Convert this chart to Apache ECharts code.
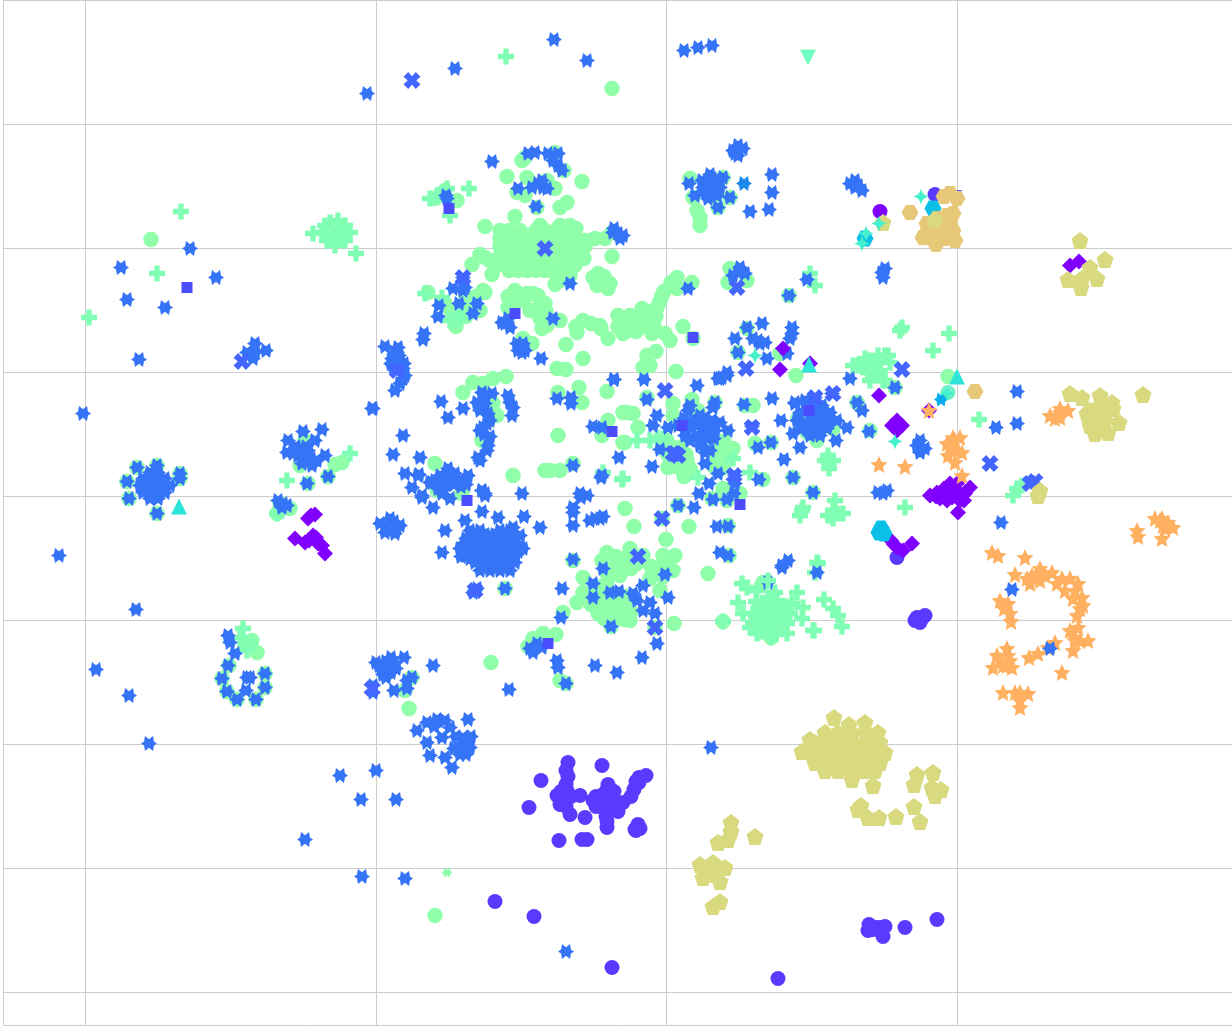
<!DOCTYPE html>
<html><head><meta charset="utf-8">
<style>html,body{margin:0;padding:0;background:#fff}#c{width:1232px;height:1028px}</style>
<script src="https://cdn.jsdelivr.net/npm/echarts@6/dist/echarts.min.js"></script>
</head><body><div id="c"></div>
<script>
// Values. The chart has no labelled units, so the unit is one plot pixel with origin at a grid crossing.
const xTicks=[-662.5,-581,-289.5,0.5,291,566];
const yTicks=[-529,-496,-372,-248,-124,0,124,248,372,496];
const indigoCircle=[[269,302],[-171,-405],[-132,-420],[-54,-471],[112,-482],[239,-431],[271,-423],[207,-433],[214,-431],[219,-430],[217,-440],[202,-434],[231,-61],[256,-122],[249,-124],[254,-126],[259,-119],[251,-121],
[-98,-266],[-100,-274],[-64,-269],[-125,-284],[-137,-311],[-100,-288],[-109,-299],[-99,-294],[-106,-308],[-96,-318],[-81,-321],[-86,-299],[-63,-304],[-63,-298],[-58,-288],[-68,-308],[-53,-308],[-43,-306],[-58,-315],[-59,-331],[-48,-315],[-107,-344],[-84,-343],[-79,-343],[-31,-333],[-26,-332],[-27,-281],[-20,-279],[-32,-293],[-27,-286],[-73,-304],
[-70,-300],[-65,-310],[-55,-300],[-60,-295],[-52,-295],[-60,-320],[-70,-310],[-105,-305],[-100,-310],[-105,-295],[-95,-300],[-98,-280],[-30,-285],[-35,-300],[-60,-305],[210,-431],[203,-428],[-59,-325],[-30,-334],[-28,-328]];
const greenCircle=[[-54,408],[-515,257],[-141,339],[-144,336],[-111,344],[-102,326],[-159,320],[-84,315],[-139,319],[-119,316],[-149,304],[-141,301],[-111,308],[-129,289],[-99,294],[-106,289],[-181,270],[-151,280],
[-156,261],[-146,266],[-136,261],[-126,271],[-161,251],[-151,246],[-141,251],[-131,246],[-121,256],[-116,261],[-106,271],[-96,271],[-91,261],[-81,256],[-71,258],[-61,258],[-54,264],[-101,256],[-96,246],[-106,241],[-156,234],[-146,231],[-136,228],[-126,231],[-166,241],[-176,236],[-91,231],[-96,221],[-106,216],[-111,212],[-68,223],[-58,208],[-69,211],[-56,213],[-73,219],[-54,240],[-174,222],[-186,242],[-194,232],[-181,239],[-181,204],[-238,204],
[-151,206],[-133,203],[-121,193],[-128,188],[-158,189],[-139,203],[-119,171],[-143,158],[-134,153],[-100,152],[-83,176],[-89,164],[-66,171],[-58,158],[-43,163],[-48,181],[-36,181],[-24,188],[-26,169],[-14,163],[-1,163],[4,156],[-9,189],[-4,201],[11,219],[11,208],[26,214],[17,170],[27,158],[-10,145],[-19,141],[-16,131],[-23,129],[10,125],[130,121],[-83,138],[-109,128],[-100,127],
[-183,206],[-221,193],[-196,193],[-186,186],[-211,179],[-128,201],
[-203,104],[-193,114],[-173,118],[-160,120],[-183,113],[-173,93],[-169,81],[-184,56],[-231,33],[-204,3],[-229,6],[-153,21],[-108,61],[-87,109],[-108,104],[-84,94],[-59,105],[-121,26],[-116,26],[-106,26],[-93,33],[-43,84],[-43,54],[-58,76],[-64,61],
[-161,-92],[-93,-64],[-41,-12],[-32,-30],[23,-30],[0,-43],[42,-77],[8,-127],[-175,-166],
[-59,-56],[-64,-64],[-36,-52],[-23,-59],[-43,-67],[-29,-67],[-46,-79],[-83,-81],[-59,-86],[-83,-96],[-89,-106],[-103,-116],[-3,-59],[9,-59],[7,-74],[-6,-94],[-16,-82],[-68,-117],[-56,-107],[-49,-114],[-39,-107],[-36,-124],[-56,-117],[-43,-117],[63,-59],[97,-86],
[-123,-137],[-133,-142],[-138,-150],[-110,-138],[-106,-184],[-100,-187],
[-18,131],[-19,99],[7,93],[26,97],[7,81],[32,86],[49,94],[79,91],[87,91],[-39,84],[-33,83],[-28,69],[-41,54],[1,56],[1,43],[14,49],[21,36],[17,29],[51,56],[54,46],[67,48],[52,33],[61,36],[89,53],[105,54],[97,17],[191,94],[204,66],[229,109],[127,19],[147,4],[132,78],[141,64],[167,68],[151,56],[57,8],[46,-2],[61,-4],[74,3],[12,-9],[-4,-22],[62,-29],[282,120],
[-529,29],[-509,31],[-486,23],[-486,18],[-539,15],[-537,-2],[-509,-17],
[-331,32],[-338,20],[-358,13],[-366,31],[-361,56],[-386,-7],[-389,-17],[-376,-12],[-324,34],
[-437,-169],[-444,-182],[-439,-195],[-429,-203],[-410,-203],[-401,-191],[-401,-177],[-414,-144],[-409,-156],[-421,-149],
[-231,-419],[-257,-212],[-254,-181],[-261,-194],
[24,318],[57,319],[27,299],[31,286],[34,279],[34,271],[52,289],[64,299],[64,228],[62,214],[81,216],[81,168],[72,144],[114,143],[-221,306],[-209,296],[-231,298],[-106,176],[57,-125],[105,-141],[-55,-130],[-11,-131],[123,201],[2,29],
[-166,266],[-157,266],[-148,258],[-139,258],[-130,266],[-121,266],[-166,258],[-157,258],[-130,258],[-121,248],[-166,250],[-157,250],[-148,242],[-139,242],[-130,238],[-121,238],[-157,242],[-148,234],[-139,234],[-130,226],[-121,226],[-166,232],[-157,226],[-148,226],[-139,226],
[-108,268],[-99,268],[-90,268],[-81,250],[-108,258],[-99,258],[-90,250],[-108,248],[-99,238],[-90,238],[-108,232],[-99,228],[-82,238],[-110,222],[-65,215],[-62,220],
[-146,196],[-136,186],[-126,178],[-140,200],[-150,196],[-120,185],[-158,200],[-124,168],[-75,173],[-90,170],[-65,168],[-42,175],[-30,175],[-18,175],[-48,170],[-36,170],[-24,178],[-12,170],[-10,180],[-18,185],[-6,195],[-2,205],[5,214],[-30,165],[-40,165],
[48,48],[55,38],[60,42],[50,40],[58,55],[64,42],[48,30],[56,28],[5,50],[10,40],[10,30],[20,42],[5,36],[24,28],[14,38],[18,20],
[-70,-100],[-60,-100],[-50,-100],[-40,-100],[-65,-110],[-55,-112],[-45,-108],[-35,-115],[-62,-122],[-50,-122],[-42,-123],[-75,-108],[-50,-70],[-38,-60],[-55,-75],[-50,-60],[-15,-70],[-5,-70],[0,-65],[-3,-80],[-35,-72],[-60,-75],[-70,-90],
[-205,190],[-215,185],[-195,185],[-190,200],[-200,200],[-210,170],[-200,180]];
const greenPlus=[[-160,440],[-485,285],[-509,223],[-577,179],[-197,308],[-236,298],[-229,301],[-219,308],[-216,281],
[-353,263],[-310,243],[-341,271],[-336,274],[-328,276],[-321,271],[-316,264],[-321,256],[-331,251],[-339,256],[-344,264],[-331,263],[-326,266],[-336,258],
[-209,177],[-216,176],[-206,179],[-224,199],[-241,203],[236,169],[234,166],[283,163],[267,146],[149,211],[144,223],
[204,136],[209,131],[214,126],[202,124],[196,131],[207,121],[192,131],[219,141],[224,134],[212,141],[199,138],[204,116],[219,116],[187,131],[222,141],[217,116],[205,125],[210,135],[200,132],[213,122],
[313,77],[-316,43],[-379,16],[-389,-17],[-384,-14],[-423,-132],[-426,-141],[-416,-149],[-419,-154],
[351,8],[347,1],[356,11],[239,-11],[163,34],[159,36],[167,36],[162,41],[163,28],
[136,-14],[134,-19],[137,-11],[169,-4],[167,-14],[171,-17],[177,-17],[162,-19],[167,-22],[-44,17],[-63,24],[84,24],
[-29,56],[-16,56],[-9,59],[-3,58],[67,38],[32,19],[-43,18],
[76,-87],[81,-91],[72,-106],[77,-117],[91,-94],[109,-96],[131,-96],[136,-122],[147,-134],[126,-107],[137,-111],[121,-137],[84,-131],[91,-137],
[94,-111],[104,-107],[114,-111],[97,-121],[107,-117],[117,-121],[94,-131],[104,-131],[114,-131],[87,-117],[124,-117],[102,-101],[111,-104],[87,-126],[121,-127],[100,-110],[110,-115],[90,-120],[100,-125],[110,-125],[90,-105],[120,-110],[95,-135],[110,-138],
[158,-103],[167,-112],[172,-119],[176,-130],[148,-134],[151,-66],[149,-76],[152,-67]];
const blueStar=[[-299,403],[-211,428],[-112,457],[-79,436],[18,446],[32,449],[46,451],
[-545,229],[-539,197],[-501,189],[-476,248],[-450,219],[-527,137],[-583,83],[-607,-59],[-530,-113],[-570,-173],[-537,-199],[-517,-247],[-326,-279],[-290,-274],[-305,-303],[-270,-303],[-361,-343],[-304,-380],[-261,-382],[-100,-455],[45,-251],[351,105],[330,69],[351,73],[335,-26],[-294,88],
[-411,153],[-419,144],[-400,146],[-411,144],[-413,138],
[-174,335],[-138,343],[-131,344],[-118,343],[-108,343],[-113,336],[-108,331],[-104,326],[-148,308],[-134,309],[-128,313],[-123,309],[-119,308],[-124,316],[-130,290],[-220,301],[-219,298],
[-52,268],[-48,263],[-43,261],[-46,258],[-53,264],[-96,213],[-113,178],[-125,138],[-22,117],[22,208],
[-146,149],[-148,146],[-143,153],[-144,144],[-149,153],[-141,146],[-161,173],[-156,169],[-164,174],[-158,178],
[-203,219],[-213,208],[-203,206],[-207,193],[-227,191],[-228,180],[-189,193],[-193,183],[-201,209],[-242,163],[-243,157],[-281,150],
[-269,144],[-274,138],[-266,136],[-273,131],[-263,128],[-263,118],[-271,106],[-266,113],[-268,149],[-261,121],[-272,142],[-267,141],[-275,133],[-262,133],[-270,126],
[-52,117],[-225,95],[-203,88],[-218,79],[-263,61],[-273,42],[-293,88],[-246,39],[-261,23],[-247,22],[-254,9],[-244,1],[-234,14],[-226,21],[-218,28],[-216,16],[-206,16],[-198,21],[-224,6],[-211,23],[-184,6],[-181,3],[-144,3],[-226,16],[-220,12],[-212,12],[-205,10],[-200,12],[-228,8],[-218,20],
[-186,36],[-178,51],[-179,73],[-181,99],[-189,94],[-181,93],[-183,69],[-176,76],[-186,66],[-174,103],[-184,104],[-188,39],[-179,46],[-158,101],[-156,94],[-153,89],[-154,81],[-182,62],[-178,83],[-186,86],[-176,60],
[-109,98],[-95,99],[-95,93],[-73,70],[-64,69],[-47,39],[-65,19],[-85,-1],
[-248,21],[-231,16],[-236,14],[-224,3],[-244,-1],[-233,-11],[-216,-2],[-184,6],[-181,1],[-93,31],[-86,3],[-79,1],[-93,-11],[-93,-16],[-93,-29],[-76,-24],[-71,-22],[-66,-22],[-63,-20],[-64,21],
[-186,-34],[-196,-34],[-166,-34],[-156,-34],[-176,-39],[-166,-39],[-156,-39],[-186,-39],[-146,-39],[-201,-46],[-191,-46],[-181,-46],[-171,-46],[-161,-46],[-151,-46],[-206,-52],[-196,-52],[-186,-52],[-176,-52],[-166,-52],[-156,-52],[-146,-52],[-201,-59],[-191,-59],[-181,-59],[-171,-59],[-161,-59],[-151,-59],[-191,-66],[-181,-66],[-171,-66],[-161,-66],[-151,-66],[-186,-74],[-176,-74],[-166,-74],[-156,-74],
[-191,-38],[-181,-38],[-171,-38],[-161,-38],[-196,-49],[-186,-49],[-176,-49],[-166,-49],[-156,-49],[-146,-49],[-196,-55],[-186,-55],[-176,-55],[-166,-55],[-156,-55],[-148,-55],[-196,-62],[-186,-62],[-176,-62],[-166,-62],[-156,-62],[-180,-70],[-170,-70],[-160,-70],[-200,-42],[-205,-60],
[-221,-34],[-201,-24],[-184,-15],[-168,-21],[-153,-31],[-142,-20],[-126,-31],[-224,-56],[-143,-52],[-191,-94],[-189,-92],[-193,-96],[-161,-92],
[-93,-63],[-104,-92],[-73,-87],[-73,-101],[-63,-72],[-56,-96],[-47,-95],[-33,-97],[-29,-104],[-23,-89],[-16,-106],[-23,-114],[-11,-117],[2,-101],[-1,-78],[-105,-121],[-55,-130],[-9,-147],[-24,-161],[-49,-176],[-71,-169],[-100,-187],[-157,-193],[-109,-164],[-108,-171],[-233,-169],
[-136,-152],[-129,-147],[-124,-151],[-133,-156],[54,-56],[62,-59],[116,-71],[122,-64],[151,-76],
[-290,-166],[-275,-161],[-262,-161],[-277,-174],[-287,-169],[-280,-181],[-272,-167],[-293,-189],[-293,-196],[-272,-194],[-259,-192],[-259,-184],[-254,-181],[-285,-170],[-280,-165],[-270,-172],[-275,-176],[-283,-178],[-277,-170],
[-229,-223],[-239,-226],[-221,-224],[-216,-231],[-198,-223],[-249,-234],[-239,-246],[-224,-241],[-236,-259],[-221,-261],[-214,-271],[-201,-246],[-208,-251],[-196,-251],[-206,-258],[-203,-241],[-210,-240],[-205,-250],[-199,-245],[-212,-252],[-200,-258],[-195,-240],[-232,-230],
[-438,-139],[-436,-146],[-431,-157],[-438,-169],[-401,-177],[-419,-181],[-444,-182],[-439,-195],[-429,-203],[-410,-203],[-401,-191],[-420,-194],[-416,-181],
[-516,24],[-508,24],[-523,18],[-516,18],[-508,18],[-501,18],[-526,11],[-518,11],[-510,11],[-503,11],[-496,11],[-523,4],[-516,4],[-508,4],[-501,4],[-516,-2],[-508,-2],
[-529,29],[-509,31],[-486,23],[-486,18],[-539,15],[-537,-2],[-509,-17],
[-363,65],[-344,67],[-378,56],[-351,56],[-379,44],[-368,41],[-358,46],[-349,36],[-341,41],[-364,33],[-354,31],[-373,43],[-361,41],[-338,20],[-359,13],[-388,-4],[-383,-7],[-379,-9],[-384,-11],[-360,50],[-355,38],[-370,50],[-365,48],
[-286,-27],[-276,-22],[-266,-29],[-281,-36],[-271,-37],[-276,-29],[-280,-30],[-270,-33],[-272,-25],
[72,351],[69,343],[77,348],[72,341],[67,346],
[23,313],[29,301],[42,313],[49,316],[57,319],[37,309],[46,308],[54,309],[42,298],[51,301],[64,299],[52,289],[46,318],[40,303],[48,303],[36,316],[44,322],
[106,322],[106,304],[84,285],[103,287],[72,224],[67,221],[79,223],[74,229],[141,217],[123,201],
[96,173],[81,169],[69,158],[92,156],[87,158],[99,154],[72,144],[101,138],[121,143],[126,169],[126,163],[124,158],[94,153],
[56,119],[61,124],[52,118],[31,111],[-52,117],[61,121],[54,118],[-19,97],[-9,81],[-13,71],[2,69],[22,86],[24,91],[49,94],[47,89],[39,79],[54,74],[62,66],[31,71],[19,61],[31,61],[42,68],[41,58],[39,44],[39,33],[52,23],[43,13],[69,21],[69,13],[33,3],[47,-3],[61,-3],[68,3],[12,-9],[28,-11],[51,-30],[62,-30],
[78,92],[106,98],[86,70],[92,49],[105,54],[93,17],[118,37],[134,49],[127,19],[147,4],[115,76],[127,63],[129,94],[149,99],[166,103],[184,118],[191,94],[196,86],[229,109],[203,65],[181,69],[170,56],[212,4],[221,6],[217,3],
[146,91],[156,91],[144,84],[154,84],[164,84],[134,84],[144,76],[154,76],[164,76],[131,76],[141,68],[151,68],[161,68],[171,76],[134,68],[144,61],[154,61],[129,93],[139,96],[149,72],[159,72],[150,80],[160,80],[140,72],[150,64],
[189,316],[184,313],[192,311],[196,306],[189,309],[216,224],[217,219],[219,228],[254,56],[251,51],[259,48],[254,44],
[12,71],[24,71],[34,81],[46,76],[24,56],[34,51],[44,46],[39,66],[49,66],[-6,47],[-14,30],[102,-86],[116,-69],[28,76],[18,78],[38,72],[30,60],[20,66],[36,56],[48,58]];
const lightBlueStar=[[78,313]];
const blueCross=[[-254,416],[-424,135],[80,128],[-28,-60],[9,43],[-4,-22],[324,33],[236,127],[369,15],[364,13],[-294,-192],[71,209],[-121,248],[-11,-131],[-1,106],[86,69],[167,103],[149,99],[68,21],[7,43],[12,41],[-191,-94],[-203,219],[-269,126]];
const blueSquare=[[-479,209],[-217,288],[-151,183],[27,159],[-54,65],[-199,-4],[74,-8],[-118,-147],[290,301],[16,71],[143,86]];
const topPlus=[[57,-125],[105,-141],[102,-84]];
const purpleDiamond=[[117,148],[114,127],[213,101],[-351,-18],[-358,-22],[-355,-19],[-371,-42],[-361,-46],[-353,-39],[-344,-49],[-341,-57],[-348,-47],[-357,-44],[-350,-41],
[404,231],[413,235],[226,71],[231,76],[236,71],[231,66],[263,86],[144,133],
[264,1],[271,4],[284,13],[277,6],[291,6],[286,-1],[281,-4],[294,-4],[304,9],[299,3],[292,-16],[274,-2],[291,13],[278,8],[270,0],[285,5],[290,0],[280,-2],[298,-4],
[225,-44],[231,-51],[237,-54],[246,-47],[228,-48]];
const violetCircle=[[214,285]];
const cyanHex=[[215,-32],[218,-37],[267,288],[199,258],[213,-36]];
const tanHex=[[244,284],[284,303],[291,298],[261,273],[271,278],[284,276],[261,259],[274,263],[287,266],[289,256],[257,259],[271,256],[281,281],[309,105],[262,270],[274,272],[280,265],[268,262],[278,258],[260,262],[270,252],[287,283],[278,300]];
const yellowPentagon=[[414,256],[439,237],[402,217],[416,218],[424,229],[431,218],[415,209],
[404,103],[416,99],[434,101],[446,94],[421,83],[434,83],[447,88],[434,69],[453,74],[477,102],[424,86],[434,91],[439,76],[424,71],[429,63],[442,64],
[372,1],[374,6],
[168,-221],[183,-228],[199,-226],[136,-255],[144,-243],
[159,-236],[172,-236],[186,-236],[200,-236],[212,-236],[149,-246],[162,-246],[175,-246],[188,-246],[201,-246],[214,-246],[146,-256],[159,-256],[172,-256],[185,-256],[198,-256],[211,-256],[219,-256],[149,-266],[162,-266],[175,-266],[188,-266],[201,-266],[214,-266],[159,-274],[172,-274],[185,-274],[198,-274],[209,-274],[186,-283],
[207,-289],[251,-278],[267,-276],[248,-288],[266,-291],[269,-299],[275,-293],[195,-309],[248,-310],[192,-313],[202,-321],[213,-321],[230,-320],[254,-325],
[65,-326],[65,-335],[62,-343],[52,-346],[89,-340],[37,-371],[47,-366],[59,-371],[37,-381],[49,-378],[54,-385],[34,-368],[50,-372],[40,-375],[47,-410],[54,-405],
[269,277],[217,274]];
const tealStar=[[255,300],[213,273],[200,263],[196,253],[229,55],[281,103],[89,141]];
const tealBlob=[[282,104]];
const skyStar=[[275,97]];
const cyanTriangle=[[-487,-10],[143,132],[291,120]];
const mintDown=[[142,439]];
const paleCross=[[-219,-376]];
const orangeStar=[[213,32],[239,30],[263,86],
[287,59],[281,53],[294,59],[282,41],[296,44],[289,34],[296,21],[286,48],[284,51],[289,56],[289,46],
[384,81],[394,79],[402,86],[394,88],[394,84],[389,78],
[326,-56],[332,-59],[359,-61],[349,-78],[366,-79],[374,-72],[386,-76],[396,-82],[404,-82],[412,-87],[407,-102],[416,-101],[417,-109],[411,-119],[412,-131],[409,-141],[422,-144],[407,-154],[414,-144],[371,-77],[361,-82],[391,-87],[334,-104],[342,-107],[344,-117],[345,-125],[363,-161],[372,-157],[382,-151],[389,-146],[396,-176],[341,-152],[331,-159],[327,-171],[341,-169],[346,-171],[337,-196],[349,-196],[362,-197],[354,-204],[354,-211],
[379,-79],[374,-84],[364,-87],[399,-94],[409,-94],[334,-164],[342,-159],[344,-164],[337,-169],[354,-196],[409,-144],[404,-134],[338,-112],[414,-112],
[471,-34],[472,-40],[496,-42],[496,-22],[489,-22],[502,-26],[507,-31],[497,-29],[494,-24],[499,-32]];
const blueStarTop=[[384,-152],[346,-93]];

const P={
 star6:'path://M1 0L.62 .24L.5 .87L0 .5L-.5 .87L-.62 .24L-1 0L-.62 -.24L-.5 -.87L0 -.5L.5 -.87L.62 -.24Z',
 star5:'path://M0 -1L.28 -.38L.95 -.31L.45 .15L.59 .81L0 .47L-.59 .81L-.45 .15L-.95 -.31L-.28 -.38Z',
 plus:'path://M-.33 -1H.33V-.33H1V.33H.33V1H-.33V.33H-1V-.33H-.33Z',
 cross:'path://M-.45 -1L0 -.5L.45 -1L1 -.45L.5 0L1 .45L.45 1L0 .5L-.45 1L-1 .45L-.5 0L-1 -.45Z',
 penta:'path://M0 -1L.95 -.31L.59 .81H-.59L-.95 -.31Z',
 hexa:'path://M1 0L.5 .87H-.5L-1 0L-.5 -.87H.5Z',
 four:'path://M0 -1Q.15 -.15 1 0Q.15 .15 0 1Q-.15 .15 -1 0Q-.15 -.15 0 -1Z'
};
const mk=(data,symbol,size,color)=>({type:'scatter',data,symbol,symbolSize:size,itemStyle:{color,opacity:1},silent:true,animation:false,large:false,clip:true});
const option={
 animation:false,
 grid:{left:3.5,right:0,top:0.5,bottom:2.5},
 xAxis:{type:'value',min:-662.5,max:566,axisLine:{show:false},axisTick:{show:false,customValues:xTicks},axisLabel:{show:false,customValues:xTicks},splitLine:{show:true,lineStyle:{color:'#ccc',width:1}}},
 yAxis:{type:'value',min:-529,max:496,axisLine:{show:false},axisTick:{show:false,customValues:yTicks},axisLabel:{show:false,customValues:yTicks},splitLine:{show:true,lineStyle:{color:'#ccc',width:1}}},
 series:[
  mk(indigoCircle,'circle',15,'#5c39ff'),
  mk(greenCircle,'circle',15.5,'#90ffaa'),
  mk(greenPlus,P.plus,16,'#80ffb4'),
  mk(blueStar,P.star6,[16,15],'#3674f7'),
  mk(lightBlueStar,P.star6,[16,15],'#1e8ae8'),
  mk(blueCross,P.cross,17,'#4266ff'),
  mk(blueSquare,'rect',11,'#4c4cff'),
  mk(topPlus,P.plus,16,'#80ffb4'),
  mk(purpleDiamond,'diamond',16,'#8000ff'),
  mk(violetCircle,'circle',15,'#7f00ff'),
  mk(cyanHex,P.hexa,[17,16],'#0bc0e6'),
  mk(tanHex,P.hexa,[17,15],'#e6c878'),
  mk(yellowPentagon,P.penta,[17,17],'#d9d980'),
  mk(tealBlob,'circle',15,'#70f0c8'),
  mk(skyStar,P.star6,[14,14],'#00aaee'),
  mk(tealStar,P.four,16,'#45f0cc'),
  mk(cyanTriangle,'triangle',[16,16],'#2ee3d8'),
  mk(mintDown,'triangle',[16,16],'#70ffc0'),
  mk(paleCross,P.star6,[11,10],'#90ffaa'),
  mk(orangeStar,P.star5,[17,17],'#ffb060'),
  mk(blueStarTop,P.star6,[16,15],'#3674f7')
 ]
};
option.series[17].symbolRotate=180;
const chart=echarts.init(document.getElementById('c'),null,{renderer:'canvas'});
chart.setOption(option);
</script></body></html>
